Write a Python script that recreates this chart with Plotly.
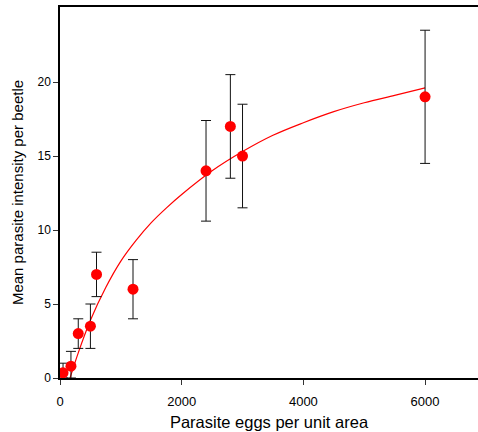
import plotly.graph_objects as go

# Observed data
eggs = [50, 180, 300, 500, 600, 1200, 2400, 2800, 3000, 6000]
intensity = [0.35, 0.8, 3.0, 3.5, 7.0, 6.0, 14.0, 17.0, 15.0, 19.0]
err_low = [0.0, 0.0, 2.0, 2.0, 5.5, 4.0, 10.6, 13.5, 11.5, 14.5]
err_high = [1.0, 1.8, 4.0, 5.0, 8.5, 8.0, 17.4, 20.5, 18.5, 23.5]

# Fitted curve
fit_x = [165, 300, 500, 750, 1000, 1250, 1500, 1750, 2000, 2500, 3000, 3500,
         4000, 4500, 5000, 5500, 6000]
fit_y = [0.0, 1.7, 3.9, 6.1, 7.9, 9.3, 10.5, 11.5, 12.4, 14.0, 15.3, 16.4,
         17.25, 18.0, 18.6, 19.1, 19.6]

x_ticks = [0, 2000, 4000, 6000]
y_ticks = [0, 5, 10, 15, 20]

plus = [h - m for h, m in zip(err_high, intensity)]
minus = [m - l for m, l in zip(intensity, err_low)]

fig = go.Figure()
fig.add_trace(go.Scatter(
    x=fit_x, y=fit_y, mode="lines",
    line=dict(color="red", width=1.2, shape="spline", smoothing=1),
    hoverinfo="skip", showlegend=False,
))
fig.add_trace(go.Scatter(
    x=eggs, y=intensity, mode="markers",
    marker=dict(color="red", size=11, line=dict(width=0)),
    error_y=dict(type="data", symmetric=False, array=plus, arrayminus=minus,
                 color="#111111", thickness=1, width=5),
    showlegend=False,
))

font_family = "Liberation Sans, Arial, Helvetica, sans-serif"
fig.update_layout(
    width=478, height=432,
    margin=dict(l=60, r=0, t=7, b=54),
    plot_bgcolor="white", paper_bgcolor="white",
    font=dict(family=font_family, size=12, color="black"),
    xaxis=dict(
        range=[0, 6870], tickvals=x_ticks, ticktext=[str(v) for v in x_ticks],
        showgrid=False, zeroline=False,
        showline=True, linecolor="black", linewidth=1.5, mirror=True,
        ticks="outside", ticklen=5, tickcolor="#333", tickwidth=1,
        ticklabelstandoff=6,
        title=dict(text="Parasite eggs per unit area", font=dict(size=16.5), standoff=8),
        tickfont=dict(size=13),
    ),
    yaxis=dict(
        range=[0, 25.07], tickvals=y_ticks, ticktext=[str(v) for v in y_ticks],
        showgrid=False, zeroline=False,
        showline=True, linecolor="black", linewidth=1.5, mirror=False,
        ticks="outside", ticklen=5, tickcolor="#333", tickwidth=1,
        title=dict(text="Mean parasite intensity per beetle", font=dict(size=15), standoff=10),
        tickfont=dict(size=12),
    ),
)

fig.write_html("out.html")
